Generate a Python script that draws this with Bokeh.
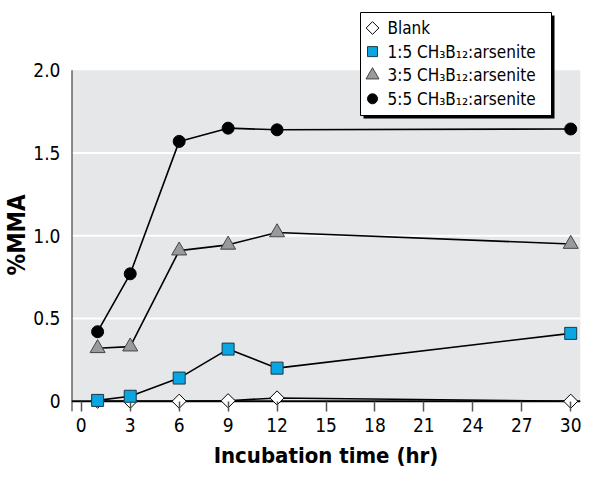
import math
from bokeh.plotting import figure
from bokeh.models import FixedTicker, Range1d, Title
from bokeh.core.properties import value
from bokeh.embed import file_html
from bokeh.resources import INLINE

# ---- data ----
hours = [1, 3, 6, 9, 12, 30]
blank = [0.0, 0.0, 0.0, 0.003, 0.02, 0.0]
ratio_1_5 = [0.005, 0.03, 0.14, 0.315, 0.20, 0.41]
ratio_3_5 = [0.32, 0.33, 0.91, 0.945, 1.02, 0.95]
ratio_5_5 = [0.42, 0.77, 1.57, 1.65, 1.64, 1.645]

x_ticks = [0, 3, 6, 9, 12, 15, 18, 21, 24, 27, 30]
y_ticks = [0, 0.5, 1.0, 1.5, 2.0]
y_tick_labels = {0: "0", 0.5: "0.5", 1: "1.0", 1.5: "1.5", 2: "2.0"}
grid_levels = [0.5, 1.0, 1.5]

labels = [
    "Blank",
    "1:5 CH\u2083B\u2081\u2082:arsenite",
    "3:5 CH\u2083B\u2081\u2082:arsenite",
    "5:5 CH\u2083B\u2081\u2082:arsenite",
]

FONT = "DejaVu Sans Condensed"
X0, X1 = -0.6, 30.6
Y0, Y1 = -0.062, 2.373
GRAY = "#e6e7e9"

FRAME_W, FRAME_H = 509, 403
px_x = (X1 - X0) / FRAME_W   # data units per pixel (x)
px_y = (Y1 - Y0) / FRAME_H   # data units per pixel (y)

p = figure(frame_width=FRAME_W, frame_height=FRAME_H,
           output_backend="svg", toolbar_location=None,
           x_range=Range1d(X0, X1), y_range=Range1d(Y0, Y1),
           min_border_left=67, min_border_right=7, min_border_top=8,
           min_border_bottom=56)
p.background_fill_color = "white"
p.border_fill_color = "white"
p.outline_line_color = None
p.xgrid.visible = False
p.ygrid.visible = False

# plot area background and grid
p.quad(left=[X0], right=[X1], bottom=[0], top=[y_ticks[-1]],
       fill_color=GRAY, line_color=None)
p.segment(x0=[X0] * len(grid_levels), x1=[X1] * len(grid_levels),
          y0=grid_levels, y1=grid_levels, line_color="white", line_width=2)

# series lines
for ys in (blank, ratio_1_5, ratio_3_5, ratio_5_5):
    p.line(hours, ys, line_color="black", line_width=1.6)

# axes lines
p.segment(x0=[X0], x1=[X1], y0=[0], y1=[0], line_color="black", line_width=2.2)
p.segment(x0=[X0], x1=[X0], y0=[Y0], y1=[y_ticks[-1]], line_color="#222222", line_width=2)

STY = {
    "blank": dict(marker="square", angle=math.pi / 4, size=10,
                  fill_color="white", line_color="black", line_width=1),
    "r15": dict(marker="square", size=12, fill_color="#0aa6e2",
                line_color="#1a3a4a", line_width=1),
    "r35": dict(marker="triangle", size=15, fill_color="#9a9a9a",
                line_color="#444444", line_width=1),
    "r55": dict(marker="circle", size=12, fill_color="black", line_color="black"),
}
p.scatter(hours, blank, **STY["blank"])
p.scatter(hours, ratio_1_5, **STY["r15"])
p.scatter(hours, ratio_3_5, **STY["r35"])
p.scatter(hours, ratio_5_5, **STY["r55"])

# ---- legend box drawn by hand (top-right, partly above the grey area) ----
leg_left = X0 + 289 * px_x
leg_right = leg_left + 191 * px_x
leg_top = Y1 - 4 * px_y
leg_bottom = leg_top - 103 * px_y
p.quad(left=[leg_left + 3 * px_x], right=[leg_right + 3 * px_x],
       top=[leg_top - 3 * px_y], bottom=[leg_bottom - 3 * px_y],
       fill_color="black", line_color=None)
p.quad(left=[leg_left], right=[leg_right], top=[leg_top], bottom=[leg_bottom],
       fill_color="white", line_color="black", line_width=1)
row_y = [leg_top - (15.5 + 23.6 * i) * px_y for i in range(4)]
mk_x = leg_left + 12 * px_x
legend_sizes = {"blank": 9, "r15": 10, "r35": 13, "r55": 10}
for i, key in enumerate(["blank", "r15", "r35", "r55"]):
    st = dict(STY[key])
    st["size"] = legend_sizes[key]
    p.scatter([mk_x], [row_y[i]], **st)
p.text(x=[leg_left + 27 * px_x] * 4, y=row_y, text=labels,
       text_font=value(FONT), text_font_size="17px", text_color="black",
       text_baseline="middle", text_align="left")

# axes
xa = p.xaxis[0]
xa.ticker = FixedTicker(ticks=x_ticks)
xa.axis_line_color = None
xa.major_tick_in = 10
xa.major_tick_out = 0
xa.major_tick_line_color = "#555555"
xa.major_tick_line_width = 1.5
xa.minor_tick_line_color = None
xa.major_label_text_font = FONT
xa.major_label_text_font_size = "19px"
xa.major_label_text_color = "black"
xa.major_label_standoff = 6
xa.axis_label = "Incubation time (hr)"
xa.axis_label_text_font = FONT
xa.axis_label_text_font_style = "bold"
xa.axis_label_text_font_size = "22px"
xa.axis_label_text_color = "black"
xa.axis_label_standoff = 8

ya = p.yaxis[0]
ya.ticker = FixedTicker(ticks=y_ticks)
ya.major_label_overrides = y_tick_labels
ya.axis_line_color = None
ya.major_tick_line_color = None
ya.minor_tick_line_color = None
ya.major_label_text_font = FONT
ya.major_label_text_font_size = "19px"
ya.major_label_text_color = "black"
ya.major_label_standoff = 5

ytitle = Title(text="%MMA", align="left", text_font=FONT,
               text_font_style="bold", text_font_size="24px",
               text_color="black", offset=136, standoff=0)
p.add_layout(ytitle, "left")

open("out.html", "w").write(file_html(p, INLINE))
